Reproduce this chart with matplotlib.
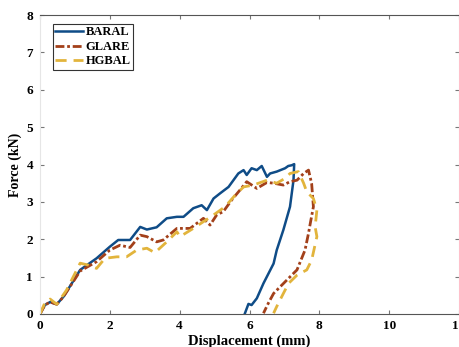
import matplotlib.pyplot as plt

# ---- data ----
baral_x = [0, 0.14, 0.29, 0.48, 0.67, 1.15, 1.62, 2.0, 2.24, 2.58, 2.87, 3.06, 3.34, 3.63, 3.92,
           4.11, 4.39, 4.63, 4.78, 4.97, 5.16, 5.40, 5.54, 5.68, 5.83, 5.92, 6.06, 6.21, 6.35,
           6.50, 6.59, 6.78, 7.02, 7.11, 7.21, 7.28,
           7.26, 7.16, 6.97, 6.78, 6.69, 6.40, 6.21, 6.06, 5.97, 5.87]
baral_y = [0, 0.24, 0.32, 0.26, 0.46, 1.18, 1.49, 1.80, 1.98, 1.98, 2.33, 2.26, 2.32, 2.56, 2.60,
           2.60, 2.83, 2.91, 2.78, 3.09, 3.23, 3.40, 3.58, 3.76, 3.85, 3.72, 3.90, 3.85, 3.96,
           3.67, 3.76, 3.81, 3.90, 3.96, 3.98, 4.01,
           3.58, 2.87, 2.25, 1.71, 1.35, 0.82, 0.42, 0.24, 0.27, 0.02]

glare_x = [0, 0.14, 0.29, 0.48, 0.67, 1.15, 1.62, 2.0, 2.29, 2.58, 2.87, 3.06, 3.34, 3.53, 3.92,
           4.30, 4.68, 4.87, 5.06, 5.25, 5.49, 5.73, 5.92, 6.21, 6.50, 6.69, 6.97, 7.16, 7.36,
           7.55, 7.69,
           7.78, 7.83, 7.74, 7.69, 7.59, 7.36, 7.21, 6.88, 6.69, 6.54, 6.40]
glare_y = [0, 0.24, 0.32, 0.26, 0.46, 1.15, 1.40, 1.71, 1.84, 1.78, 2.11, 2.07, 1.93, 1.98, 2.29,
           2.29, 2.56, 2.38, 2.65, 2.74, 3.05, 3.32, 3.54, 3.36, 3.52, 3.50, 3.45, 3.54, 3.58,
           3.76, 3.85,
           3.49, 2.87, 2.42, 2.16, 1.71, 1.18, 1.04, 0.73, 0.55, 0.29, 0.02]

hgbal_x = [0, 0.14, 0.29, 0.48, 0.76, 1.15, 1.38, 1.62, 1.86, 2.20, 2.48, 2.77, 3.06, 3.29, 3.63,
           3.92, 4.01, 4.39, 4.68, 4.97, 5.30, 5.59, 5.83, 6.11, 6.50, 6.78, 7.02, 7.16, 7.40,
           7.55, 7.64, 7.83, 7.93, 7.88, 7.93, 7.78, 7.64, 7.36, 7.12, 6.97, 6.78, 6.69]
hgbal_y = [0, 0.30, 0.40, 0.26, 0.64, 1.36, 1.31, 1.22, 1.49, 1.53, 1.53, 1.71, 1.76, 1.64, 1.93,
           2.20, 2.07, 2.29, 2.47, 2.65, 2.87, 3.18, 3.40, 3.45, 3.58, 3.50, 3.63, 3.76, 3.81,
           3.50, 3.27, 3.09, 2.78, 2.33, 2.07, 1.44, 1.18, 1.04, 0.82, 0.55, 0.20, 0.02]

plt.rcParams['font.family'] = 'Liberation Serif'
plt.rcParams['font.weight'] = 'bold'

fig = plt.figure(figsize=(4.59, 3.47), dpi=100)
ax = fig.add_axes([40 / 459, 33 / 347, 419 / 459, 299 / 347])

ax.plot(baral_x, baral_y, color='#0f4c87', lw=1.8, label='BARAL')
ax.plot(glare_x, glare_y, color='#a3401a', lw=2.0, ls=(0, (3.2, 1, 1, 1)), label='GLARE')
ax.plot(hgbal_x, hgbal_y, color='#e2b43c', lw=2.0, ls=(0, (4, 2.5)), label='HGBAL')

ax.set_xlim(0, 12)
ax.set_ylim(0, 8)
ax.set_xticks(range(0, 13, 2))
ax.set_yticks(range(0, 9))
ax.tick_params(direction='in', length=3, width=0.8, color='#777777',
               labelsize=9.5, top=True, right=True, pad=4)
ax.tick_params(axis='y', pad=5)
for lbl in ax.get_xticklabels() + ax.get_yticklabels():
    lbl.set_fontweight('bold')

ax.spines['left'].set_color('#e6e6e6')
ax.spines['right'].set_color('#e6e6e6')
ax.spines['top'].set_color('#555555')
ax.spines['bottom'].set_color('#555555')

ax.set_xlabel('Displacement (mm)', fontsize=10.5, fontweight='bold', labelpad=2)
ax.set_ylabel('Force (kN)', fontsize=10, fontweight='bold', labelpad=3)

leg = ax.legend(loc='upper left', bbox_to_anchor=(0.031, 0.97), fontsize=9, frameon=True,
                fancybox=False, edgecolor='black', handlelength=2.2, handletextpad=0.2,
                borderpad=0.2, labelspacing=0.2, borderaxespad=0)
leg.get_frame().set_linewidth(0.8)
for t in leg.get_texts():
    t.set_fontweight('bold')

fig.savefig('out.png', dpi=100)
